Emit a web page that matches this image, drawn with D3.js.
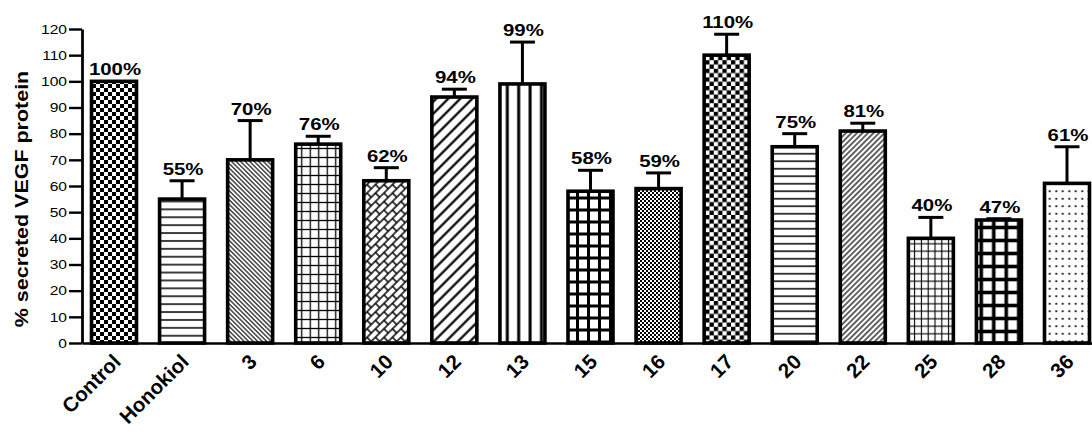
<!DOCTYPE html>
<html>
<head>
<meta charset="utf-8">
<script src="https://cdn.jsdelivr.net/npm/d3@7/dist/d3.min.js"></script>
<style>
  html, body { margin: 0; padding: 0; background: #fff; }
  svg { display: block; font-family: "Liberation Sans", Arial, Helvetica, sans-serif; }
</style>
</head>
<body>
<svg id="chart" width="1092" height="432"></svg>
<script>
// Compounds tested and their secreted VEGF protein (% of control), with SEM
const categories = ["Control", "Honokiol", "3", "6", "10", "12", "13", "15", "16", "17", "20", "22", "25", "28", "36"];
const values = [100, 55, 70, 76, 62, 94, 99, 58, 59, 110, 75, 81, 40, 47, 61];
const errors = [0, 7, 15, 3, 5, 3, 16, 8, 6, 8, 5, 3, 8, 0.5, 14];
const yTicks = [0, 10, 20, 30, 40, 50, 60, 70, 80, 90, 100, 110, 120];
// fill pattern used for each bar
const fills = ["checker8", "hlines8", "bslashFine", "gridFine", "brick", "slashWide", "vlinesBold",
               "gridBold11", "checker2", "checker8b", "hlines75", "slashFine", "gridFine7", "gridBold12", "dots"];

const svg = d3.select("#chart");
const margin = { left: 82, right: 1099, top: 29, bottom: 343 };

const x = d3.scaleBand()
  .domain(categories)
  .range([margin.left, margin.right])
  .paddingInner(0.339)
  .paddingOuter(0.1396);

const y = d3.scaleLinear()
  .domain([0, 120])
  .range([margin.bottom, margin.top]);

// ---------- hatch patterns ----------
const defs = svg.append("defs");

function base(id, w, h, transform) {
  const p = defs.append("pattern")
    .attr("id", id)
    .attr("patternUnits", "userSpaceOnUse")
    .attr("width", w).attr("height", h);
  if (transform) p.attr("patternTransform", transform);
  p.append("rect").attr("width", w).attr("height", h).attr("fill", "#fff");
  return p;
}
function checker(id, s) {
  const p = base(id, 2 * s, 2 * s);
  p.append("rect").attr("x", 0).attr("y", 0).attr("width", s).attr("height", s).attr("fill", "#000");
  p.append("rect").attr("x", s).attr("y", s).attr("width", s).attr("height", s).attr("fill", "#000");
}
function hlines(id, gap, sw) {
  const p = base(id, 10, gap);
  p.append("rect").attr("x", 0).attr("y", gap / 2 - sw / 2).attr("width", 10).attr("height", sw).attr("fill", "#000");
}
function vlines(id, gap, sw, transform) {
  const p = base(id, gap, 10, transform);
  p.append("rect").attr("x", gap / 2 - sw / 2).attr("y", 0).attr("width", sw).attr("height", 10).attr("fill", "#000");
}
function grid(id, gx, gy, sw) {
  const p = base(id, gx, gy);
  p.append("rect").attr("x", 0).attr("y", gy / 2 - sw / 2).attr("width", gx).attr("height", sw).attr("fill", "#000");
  p.append("rect").attr("x", gx / 2 - sw / 2).attr("y", 0).attr("width", sw).attr("height", gy).attr("fill", "#000");
}
function dots(id, gx, gy, r) {
  const p = base(id, gx, gy);
  p.append("rect").attr("x", gx / 2 - r).attr("y", gy / 2 - r).attr("width", 2 * r).attr("height", 2 * r).attr("fill", "#000");
}
function brick(id, s, sw) {
  const p = base(id, 2 * s, 2 * s, "rotate(-45)");
  const g = p.append("g").attr("stroke", "#000").attr("stroke-width", sw);
  g.append("line").attr("x1", 0).attr("x2", 2 * s).attr("y1", 0).attr("y2", 0);
  g.append("line").attr("x1", 0).attr("x2", 2 * s).attr("y1", s).attr("y2", s);
  g.append("line").attr("x1", 0).attr("x2", 2 * s).attr("y1", 2 * s).attr("y2", 2 * s);
  g.append("line").attr("x1", s / 2).attr("x2", s / 2).attr("y1", 0).attr("y2", s);
  g.append("line").attr("x1", 1.5 * s).attr("x2", 1.5 * s).attr("y1", s).attr("y2", 2 * s);
}

checker("checker8", 4);
checker("checker8b", 4.3);
checker("checker2", 2);
hlines("hlines8", 7.9, 1.5);
hlines("hlines75", 7.5, 1.5);
vlines("bslashFine", 3.2, 1.1, "rotate(-45)");
vlines("slashFine", 3.9, 1.2, "rotate(45)");
vlines("slashWide", 8.5, 2.2, "rotate(45)");
vlines("vlinesBold", 11.4, 3);
grid("gridFine", 8.5, 9, 1.3);
grid("gridFine7", 6.8, 7.5, 1.1);
grid("gridBold11", 11, 12, 3);
grid("gridBold12", 12.5, 13, 3.6);
dots("dots", 6.5, 7.5, 0.9);
brick("brick", 6, 1.5);

// ---------- axes ----------
const yAxis = svg.append("g")
  .attr("transform", `translate(${margin.left},0)`)
  .call(d3.axisLeft(y).tickValues(yTicks).tickSize(13).tickSizeOuter(0).tickFormat(d3.format("d")));
yAxis.select(".domain").attr("stroke", "#000").attr("stroke-width", 2.8);
yAxis.selectAll(".tick line").attr("stroke", "#000").attr("stroke-width", 2.4);
yAxis.selectAll(".tick text")
  .attr("x", 0)
  .attr("transform", "translate(-15,0) scale(1.2,1)")
  .attr("font-size", 13)
  .attr("font-family", "Liberation Sans, Arial, sans-serif")
  .attr("fill", "#000");

const xAxis = svg.append("g")
  .attr("transform", `translate(0,${margin.bottom})`)
  .call(d3.axisBottom(x).tickSize(0).tickSizeOuter(0));
xAxis.select(".domain").attr("stroke", "#000").attr("stroke-width", 2.4);
xAxis.selectAll(".tick text")
  .attr("x", 0).attr("y", 0).attr("dy", 0)
  .attr("text-anchor", "end")
  .attr("transform", "translate(8,20) rotate(-45)")
  .attr("font-size", 20.5)
  .attr("font-weight", "bold")
  .attr("font-family", "Liberation Sans, Arial, sans-serif")
  .attr("fill", "#000");

// ---------- bars ----------
const rows = categories.map((c, i) => ({ c, v: values[i], e: errors[i], fill: fills[i] }));

svg.append("g").selectAll("rect")
  .data(rows)
  .join("rect")
  .attr("x", d => x(d.c))
  .attr("width", x.bandwidth())
  .attr("y", d => y(d.v))
  .attr("height", d => y(0) - y(d.v))
  .attr("fill", d => `url(#${d.fill})`)
  .attr("stroke", "#000")
  .attr("stroke-width", 3.6);

// error bars (upper half only)
const eb = svg.append("g").attr("stroke", "#000").attr("stroke-width", 3)
  .selectAll("g").data(rows.filter(d => d.e > 0)).join("g");
eb.append("line")
  .attr("x1", d => x(d.c) + x.bandwidth() / 2)
  .attr("x2", d => x(d.c) + x.bandwidth() / 2)
  .attr("y1", d => y(d.v))
  .attr("y2", d => y(d.v + d.e));
eb.append("line")
  .attr("x1", d => x(d.c) + x.bandwidth() / 2 - 12.5)
  .attr("x2", d => x(d.c) + x.bandwidth() / 2 + 12.5)
  .attr("y1", d => y(d.v + d.e))
  .attr("y2", d => y(d.v + d.e));

// value labels
svg.append("g").selectAll("text")
  .data(rows)
  .join("text")
  .attr("text-anchor", "middle")
  .attr("transform", d => `translate(${x(d.c) + x.bandwidth() / 2 + 1},${y(d.v + d.e) - 6}) scale(1.2,1)`)
  .attr("font-size", 17)
  .attr("font-weight", "bold")
  .attr("fill", "#000")
  .text(d => `${d.v}%`);

// y-axis title
svg.append("text")
  .attr("text-anchor", "middle")
  .attr("transform", "translate(28,199) rotate(-90) scale(1.13,1)")
  .attr("font-size", 19)
  .attr("font-weight", "bold")
  .attr("fill", "#000")
  .text("% secreted VEGF protein");
</script>
</body>
</html>
